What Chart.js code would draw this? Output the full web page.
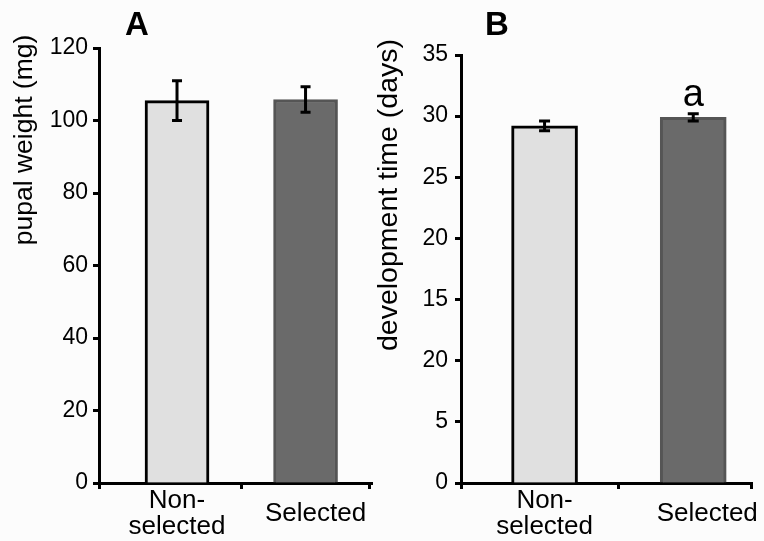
<!DOCTYPE html>
<html><head><meta charset="utf-8">
<script src="https://cdn.jsdelivr.net/npm/chart.js@4.4.0/dist/chart.umd.min.js"></script>
<style>
html,body{margin:0;padding:0;background:#fcfcfc;}
#wrap{position:relative;width:764px;height:541px;overflow:hidden;background:#fcfcfc;}
canvas{position:absolute;top:0;}
#ca{left:0;}
#cb{left:370px;}
</style></head><body>
<div id="wrap">
<canvas id="ca" width="382" height="541"></canvas>
<canvas id="cb" width="394" height="541"></canvas>
</div>
<script>
// ---- data ----
const categories = [['Non-', 'selected'], 'Selected'];
const weightMeans = [105.5, 105.8];
const weightErrors = [5.5, 3.5];
const weightTicks = ['0', '20', '40', '60', '80', '100', '120'];
const devMeans = [29.2, 29.9];
const devErrors = [0.4, 0.3];
const devTicks = ['0', '5', '20', '15', '20', '25', '30', '35'];
const devLetters = ['', 'a'];
const barFills = ['#e0e0e0', '#6a6a6a'];
const barBorders = ['#000000', '#555555'];

const FAM = '"Liberation Sans", Arial, Helvetica, sans-serif';
Chart.defaults.font.family = FAM;
Chart.defaults.color = '#000';

const errorBarPlugin = {
  id: 'errbars',
  afterDatasetsDraw(chart) {
    const ctx = chart.ctx, xs = chart.scales.x, ys = chart.scales.y;
    const ds = chart.data.datasets[0];
    ctx.save();
    ctx.strokeStyle = '#000'; ctx.lineWidth = 3; ctx.lineCap = 'butt';
    ds.data.forEach((pt, i) => {
      const e = ds.errors[i];
      const x = xs.getPixelForValue(pt.x);
      const yT = ys.getPixelForValue(pt.y + e), yB = ys.getPixelForValue(pt.y - e);
      const cw = ds.capWidth / 2;
      ctx.beginPath();
      ctx.moveTo(x, yT); ctx.lineTo(x, yB);
      ctx.moveTo(x - cw, yT); ctx.lineTo(x + cw, yT);
      ctx.moveTo(x - cw, yB); ctx.lineTo(x + cw, yB);
      ctx.stroke();
      if (ds.letters && ds.letters[i]) {
        ctx.fillStyle = '#000';
        ctx.font = '38px ' + FAM;
        ctx.textAlign = 'center'; ctx.textBaseline = 'alphabetic';
        ctx.fillText(ds.letters[i], x, yT - 8);
      }
    });
    ctx.restore();
  }
};

const textPlugin = {
  id: 'panelText',
  afterDraw(chart, args, o) {
    const ctx = chart.ctx;
    ctx.save();
    ctx.fillStyle = '#000';
    ctx.font = 'bold 33px ' + FAM;
    ctx.textAlign = 'center'; ctx.textBaseline = 'alphabetic';
    ctx.fillText(o.panel, o.panelX, o.panelY);
    ctx.translate(o.titleX, o.titleY);
    ctx.rotate(-Math.PI / 2);
    ctx.font = o.titleSize + 'px ' + FAM;
    ctx.textBaseline = 'middle';
    ctx.fillText(o.title, 0, 0);
    ctx.restore();
  }
};

function makePanel(canvasId, p) {
  const data = p.means.map((v, i) => ({ x: i, y: v }));
  // tick positions: left edge, label 1, divider, label 2 (slightly right of bar as in original), right end
  const tickVals = [p.xMin, 0, 0.5, 1 + p.lblShift, p.xEnd];
  const labelAt = { 1: categories[0], 3: categories[1] };
  return new Chart(document.getElementById(canvasId), {
    type: 'bar',
    data: {
      datasets: [{
        data: data,
        errors: p.errors,
        letters: p.letters,
        capWidth: p.capWidth,
        backgroundColor: barFills,
        borderColor: barBorders,
        borderWidth: 3,
        barThickness: p.barW
      }]
    },
    plugins: [errorBarPlugin, textPlugin],
    options: {
      responsive: false,
      animation: false,
      events: [],
      layout: { padding: { top: p.top, right: p.right, left: 0, bottom: 0 } },
      plugins: {
        legend: { display: false },
        tooltip: { enabled: false },
        panelText: p.text
      },
      scales: {
        x: {
          type: 'linear',
          offset: false,
          min: p.xMin, max: p.xMax,
          afterBuildTicks(s) { s.ticks = tickVals.map(v => ({ value: v })); },
          ticks: {
            autoSkip: false, maxRotation: 0, minRotation: 0, crossAlign: 'center', padding: 12,
            color: '#000', font: { size: 26, lineHeight: 0.98 },
            callback: (v, i) => (labelAt[i] !== undefined ? labelAt[i] : '')
          },
          grid: {
            drawOnChartArea: false, tickLength: 6, tickWidth: 3, offset: false,
            tickColor: (c) => (c.index === 1 || c.index === 3) ? 'rgba(0,0,0,0)' : '#000'
          },
          border: { color: '#000', width: 3 },
          afterFit(s) { s.height = 541 - p.bottomY; }
        },
        y: {
          min: 0, max: p.yMax,
          ticks: {
            stepSize: p.yStep, padding: p.yPad, color: '#000', font: { size: 23 },
            callback: (v, i) => p.yLabels[i]
          },
          grid: { drawOnChartArea: false, tickLength: 6, tickWidth: 3, tickColor: '#000' },
          border: { color: '#000', width: 3 },
          afterFit(s) { s.width = p.leftX; }
        }
      }
    }
  });
}

makePanel('ca', {
  means: weightMeans, errors: weightErrors, letters: null, capWidth: 10, barW: 64,
  top: 48, right: 10, bottomY: 483, leftX: 99, yPad: 5,
  xMin: -0.607, xMax: 1.517, xEnd: 1.5, lblShift: 0.078,
  yMax: 120, yStep: 20, yLabels: weightTicks,
  text: { panel: 'A', panelX: 137, panelY: 35, title: 'pupal weight (mg)', titleSize: 26.5, titleX: 25, titleY: 140 }
});

makePanel('cb', {
  means: devMeans, errors: devErrors, letters: devLetters, capWidth: 11, barW: 66,
  top: 55, right: 11, bottomY: 483, leftX: 91, yPad: 7,
  xMin: -0.562, xMax: 1.40, xEnd: 1.395, lblShift: 0.094,
  yMax: 35, yStep: 5, yLabels: devTicks,
  text: { panel: 'B', panelX: 127, panelY: 35, title: 'development time (days)', titleSize: 28.5, titleX: 19, titleY: 195 }
});
</script>
</body></html>
